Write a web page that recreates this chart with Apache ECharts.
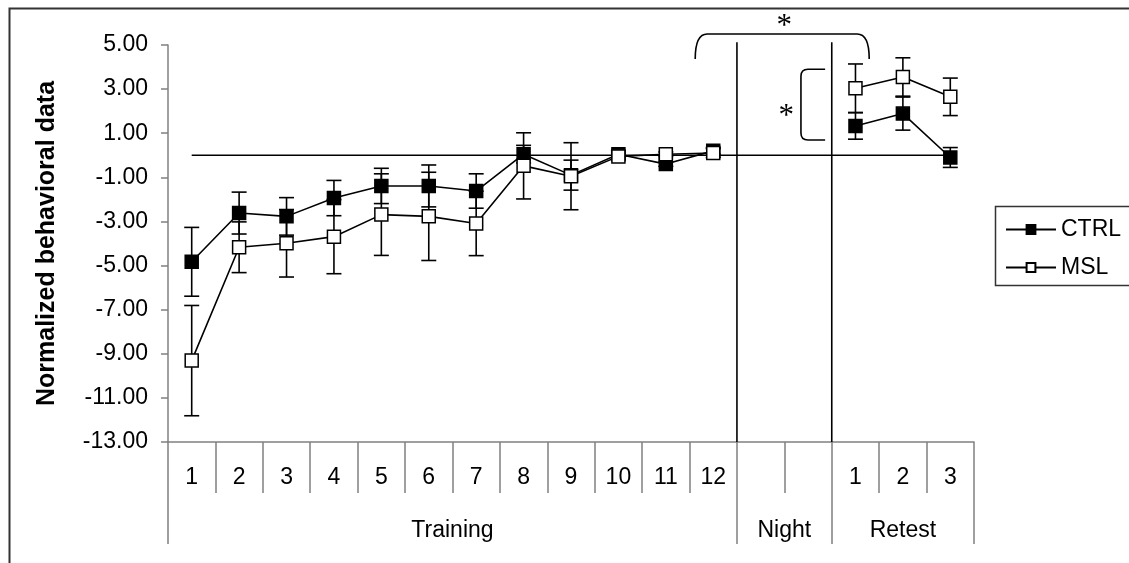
<!DOCTYPE html>
<html>
<head>
<meta charset="utf-8">
<script src="https://cdn.jsdelivr.net/npm/echarts@6/dist/echarts.min.js"></script>
<style>
  html, body { margin: 0; padding: 0; background: #fff; }
  #chart { width: 1129px; height: 563px; }
</style>
</head>
<body>
<div id="chart"></div>
<script>
// Session labels along the x axis (training blocks, night, retest blocks)
const sessions = ['1', '2', '3', '4', '5', '6', '7', '8', '9', '10', '11', '12', '', '', '1', '2', '3'];

// Group means and error (SEM) per session; null = no measurement (night)
const ctrlMean = [-4.83, -2.62, -2.77, -1.94, -1.39, -1.39, -1.62, 0.05, -0.90, 0.05, -0.40, 0.20, null, null, 1.33, 1.89, -0.10];
const ctrlErr  = [1.56, 0.95, 0.85, 0.80, 0.80, 0.95, 0.78, 0.40, 0.68, 0.15, 0.10, 0.15, null, null, 0.60, 0.75, 0.45];
const mslMean  = [-9.31, -4.17, -3.99, -3.69, -2.69, -2.77, -3.09, -0.48, -0.95, -0.05, 0.05, 0.10, null, null, 3.04, 3.55, 2.65];
const mslErr   = [2.50, 1.15, 1.53, 1.68, 1.85, 2.00, 1.46, 1.50, 1.52, 0.15, 0.10, 0.20, null, null, 1.10, 0.87, 0.85];

// Reference level (normalised to zero)
const baseline = [0, 0, 0, 0, 0, 0, 0, 0, 0, 0, 0, 0, 0, 0, 0, 0, 0];

// Phase groups on the second label row, with their boundaries in session units
const phases = ['Training', 'Night', 'Retest'];
const phaseBounds = [0, 12, 14, 17];

// Y tick values
const yTicks = [-13, -11, -9, -7, -5, -3, -1, 1, 3, 5];

const FONT = '"Liberation Sans", Arial, sans-serif';
const AXIS_GRAY = '#808080';
const FS = 23;

const phaseCenters = phases.map((p, i) => (phaseBounds[i] + phaseBounds[i + 1]) / 2);

function errItems(mean, err) {
  const out = [];
  mean.forEach((m, i) => { if (m !== null) out.push([i, m, err[i]]); });
  return out;
}

function errorBars(mean, err) {
  return {
    type: 'custom',
    xAxisIndex: 0, yAxisIndex: 0,
    data: errItems(mean, err),
    encode: { x: 0, y: 1 },
    z: 2,
    silent: true,
    renderItem(params, api) {
      const x = api.value(0), m = api.value(1), e = api.value(2);
      const t = api.coord([x, m + e]);
      const b = api.coord([x, m - e]);
      const hw = 7.5;
      const st = { stroke: '#000', lineWidth: 1.6 };
      return {
        type: 'group',
        children: [
          { type: 'line', shape: { x1: t[0], y1: t[1], x2: b[0], y2: b[1] }, style: st },
          { type: 'line', shape: { x1: t[0] - hw, y1: t[1], x2: t[0] + hw, y2: t[1] }, style: st },
          { type: 'line', shape: { x1: b[0] - hw, y1: b[1], x2: b[0] + hw, y2: b[1] }, style: st }
        ]
      };
    }
  };
}

const chart = echarts.init(document.getElementById('chart'), null, { renderer: 'canvas' });

chart.setOption({
  animation: false,
  backgroundColor: '#fff',
  textStyle: { fontFamily: FONT },
  grid: { left: 168, right: 155, top: 45, bottom: 121 },
  legend: {
    data: ['CTRL', 'MSL'],
    orient: 'vertical',
    left: 1000,
    top: 213,
    itemWidth: 50,
    itemHeight: 11,
    itemGap: 15,
    textStyle: { fontSize: FS, color: '#000', fontFamily: FONT }
  },
  xAxis: [
    {
      type: 'category',
      data: sessions,
      boundaryGap: true,
      axisLine: { show: true, onZero: false, lineStyle: { color: AXIS_GRAY, width: 1.5 } },
      axisTick: { show: true, interval: 0, alignWithLabel: false, inside: false, length: 51, lineStyle: { color: AXIS_GRAY, width: 1.5 } },
      axisLabel: { interval: 0, margin: 24, fontSize: FS, color: '#000', fontFamily: FONT },
      splitLine: { show: false }
    },
    {
      type: 'value',
      min: 0, max: 17,
      position: 'bottom',
      axisLine: { show: false, onZero: false },
      axisTick: { show: true, customValues: phaseBounds, length: 102, lineStyle: { color: AXIS_GRAY, width: 1.5 } },
      axisLabel: {
        customValues: phaseCenters,
        formatter: v => phases[phaseCenters.indexOf(v)] || '',
        margin: 77, fontSize: FS, color: '#000', fontFamily: FONT
      },
      splitLine: { show: false }
    }
  ],
  yAxis: {
    type: 'value',
    min: -13, max: 5,
    name: 'Normalized behavioral data',
    nameLocation: 'middle',
    nameGap: 108,
    nameTextStyle: { fontSize: 25, fontWeight: 'bold', color: '#000', fontFamily: FONT },
    axisLine: { show: true, lineStyle: { color: AXIS_GRAY, width: 1.5 } },
    axisTick: { show: true, customValues: yTicks, length: 7, lineStyle: { color: AXIS_GRAY, width: 1.5 } },
    axisLabel: { customValues: yTicks, formatter: v => v.toFixed(2), margin: 20, fontSize: FS, color: '#000', fontFamily: FONT },
    splitLine: { show: false }
  },
  series: [
    {
      name: 'baseline',
      type: 'line',
      data: baseline,
      symbol: 'none',
      silent: true,
      z: 1,
      lineStyle: { color: '#000', width: 1.6 }
    },
    errorBars(ctrlMean, ctrlErr),
    errorBars(mslMean, mslErr),
    {
      name: 'CTRL',
      type: 'line',
      data: ctrlMean,
      connectNulls: false,
      symbol: 'rect',
      symbolSize: 13,
      z: 3,
      lineStyle: { color: '#000', width: 1.6 },
      itemStyle: { color: '#000', borderColor: '#000', borderWidth: 1.5 }
    },
    {
      name: 'MSL',
      type: 'line',
      data: mslMean,
      connectNulls: false,
      symbol: 'rect',
      symbolSize: 13,
      z: 4,
      lineStyle: { color: '#000', width: 1.6 },
      itemStyle: { color: '#fff', borderColor: '#000', borderWidth: 1.5 }
    },
    {
      // night separators and significance brackets, on the phase scale
      name: 'sig',
      type: 'custom',
      xAxisIndex: 1, yAxisIndex: 0,
      data: [[0, 0]],
      silent: true,
      clip: false,
      z: 5,
      renderItem(params, api) {
        const st = { stroke: '#000', lineWidth: 1.6, fill: null };
        const nights = [phaseBounds[1], phaseBounds[2]].map(b => {
          const lo = api.coord([b, -13]);
          const hi = api.coord([b, 5.12]);
          return { type: 'line', shape: { x1: lo[0], y1: lo[1], x2: hi[0], y2: hi[1] }, style: st };
        });
        // across night: last training block vs first retest block
        const a0 = api.coord([11.12, 4.37]);
        const a1 = api.coord([14.79, 5.50]);
        const r = 12;
        const bigPath = `M${a0[0]},${a0[1]} Q${a0[0]},${a1[1]} ${a0[0] + r},${a1[1]} ` +
          `L${a1[0] - r},${a1[1]} Q${a1[0]},${a1[1]} ${a1[0]},${a0[1]}`;
        // between groups on the first retest block
        const b0 = api.coord([13.35, 0.69]);
        const b1 = api.coord([13.86, 3.90]);
        const r2 = 7;
        const smallPath = `M${b1[0]},${b1[1]} L${b0[0] + r2},${b1[1]} Q${b0[0]},${b1[1]} ${b0[0]},${b1[1] + r2} ` +
          `L${b0[0]},${b0[1] - r2} Q${b0[0]},${b0[1]} ${b0[0] + r2},${b0[1]} L${b1[0]},${b0[1]}`;
        const s1 = api.coord([13.0, 6.09]);
        const s2 = api.coord([13.04, 2.01]);
        const starStyle = { text: '*', fill: '#000', fontSize: 31, fontFamily: '"Liberation Serif", "Times New Roman", serif', align: 'center', verticalAlign: 'middle' };
        return {
          type: 'group',
          children: nights.concat([
            { type: 'path', shape: { pathData: bigPath }, style: st },
            { type: 'path', shape: { pathData: smallPath }, style: st },
            { type: 'text', x: s1[0], y: s1[1] + 6, style: starStyle },
            { type: 'text', x: s2[0], y: s2[1] + 6, style: starStyle }
          ])
        };
      }
    }
  ],
  graphic: [
    { type: 'rect', left: 7, top: 6, shape: { width: 1300, height: 700 }, style: { fill: null, stroke: '#333', lineWidth: 2 }, silent: true, z: -1 },
    { type: 'rect', left: 993, top: 204, shape: { width: 300, height: 79 }, style: { fill: null, stroke: '#333', lineWidth: 1.5 }, silent: true, z: -1 }
  ]
});
</script>
</body>
</html>
